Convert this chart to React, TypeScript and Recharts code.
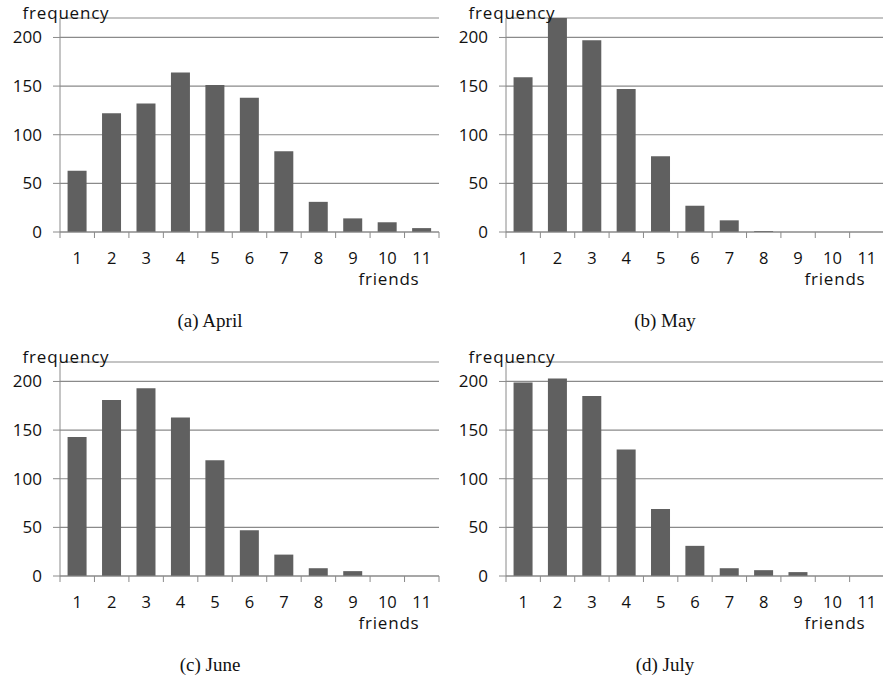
import { Bar, BarChart, CartesianGrid, XAxis, YAxis } from 'recharts';

const friends = [1, 2, 3, 4, 5, 6, 7, 8, 9, 10, 11];
const april = [63, 122, 132, 164, 151, 138, 83, 31, 14, 10, 4];
const may = [159, 220, 197, 147, 78, 27, 12, 1, 0, 0, 0];
const june = [143, 181, 193, 163, 119, 47, 22, 8, 5, 0, 0];
const july = [199, 203, 185, 130, 69, 31, 8, 6, 4, 0, 0];
const yTicks = [0, 50, 100, 150, 200];

const BAR = '#606060';
const LINE = '#8a8a8a';
const FONT = '"Open Sans", sans-serif';
const TICK_MARGIN = 20;

const FriendTick = (props: any) => {
  const { x, y, payload, index } = props;
  const half = payload.offset ?? 17;
  const axisY = y - TICK_MARGIN;
  return (
    <g>
      <line x1={x - half} x2={x - half} y1={axisY} y2={axisY + 6} stroke={LINE} />
      {index === friends.length - 1 && <line x1={x + half} x2={x + half} y1={axisY} y2={axisY + 6} stroke={LINE} />}
      <text x={x} y={y} dy="0.71em" textAnchor="middle" fontFamily={FONT} fontSize={16.5} fill="#111">
        {payload.value}
      </text>
    </g>
  );
};

const FrequencyLabel = (props: any) => {
  const { x, y, width } = props.viewBox;
  return (
    <text x={x + width + 6} y={y + 1} textAnchor="middle" fontFamily={FONT} fontSize={17} letterSpacing={0.8} fill="#111">
      frequency
    </text>
  );
};

const FriendsLabel = (props: any) => {
  const { x, y } = props.viewBox;
  return (
    <text x={x + 329} y={y + 52.5} textAnchor="middle" fontFamily={FONT} fontSize={17} letterSpacing={0.8} fill="#111">
      friends
    </text>
  );
};

type PanelProps = {
  values: number[];
  left: number;
  top: number;
  width: number;
  axisWidth: number;
  caption: string;
  captionX: number;
};

const Panel = ({ values, left, top, width, axisWidth, caption, captionX }: PanelProps) => {
  const data = friends.map((f, i) => ({ friends: f, frequency: values[i] }));
  return (
    <>
      <div style={{ position: 'absolute', left, top, width, height: 292 }}>
        <BarChart width={width} height={292} data={data} margin={{ top: 18, right: 2, bottom: 9, left: 0 }} barCategoryGap="22%">
          <CartesianGrid vertical={false} stroke={LINE} strokeWidth={1.2} />
          <XAxis
            dataKey="friends"
            height={51}
            axisLine={{ stroke: LINE }}
            tickLine={false}
            tickSize={0}
            tickMargin={TICK_MARGIN}
            interval={0}
            tick={<FriendTick />}
            label={<FriendsLabel />}
          />
          <YAxis
            width={axisWidth}
            domain={[0, 220]}
            ticks={yTicks}
            interval={0}
            axisLine={{ stroke: LINE }}
            tickLine={{ stroke: LINE }}
            tickSize={7}
            tickMargin={11}
            tick={{ fontFamily: FONT, fontSize: 17, fill: '#111' }}
            label={<FrequencyLabel />}
          />
          <Bar dataKey="frequency" fill={BAR} isAnimationActive={false} />
        </BarChart>
      </div>
      <div
        style={{
          position: 'absolute',
          left: captionX - 100,
          top: top + 311,
          width: 200,
          textAlign: 'center',
          fontFamily: '"Liberation Serif", serif',
          fontSize: 19,
          lineHeight: '20px',
          color: '#111',
        }}
      >
        {caption}
      </div>
    </>
  );
};

export default function App() {
  return (
    <div style={{ position: 'absolute', left: 0, top: 0, width: 883, height: 682, overflow: 'hidden', background: '#fff' }}>
      <Panel values={april} left={0} top={0} width={441} axisWidth={60} caption="(a) April" captionX={210} />
      <Panel values={may} left={441} top={0} width={445} axisWidth={65} caption="(b) May" captionX={665} />
      <Panel values={june} left={0} top={344} width={441} axisWidth={60} caption="(c) June" captionX={210} />
      <Panel values={july} left={441} top={344} width={445} axisWidth={65} caption="(d) July" captionX={665} />
    </div>
  );
}
